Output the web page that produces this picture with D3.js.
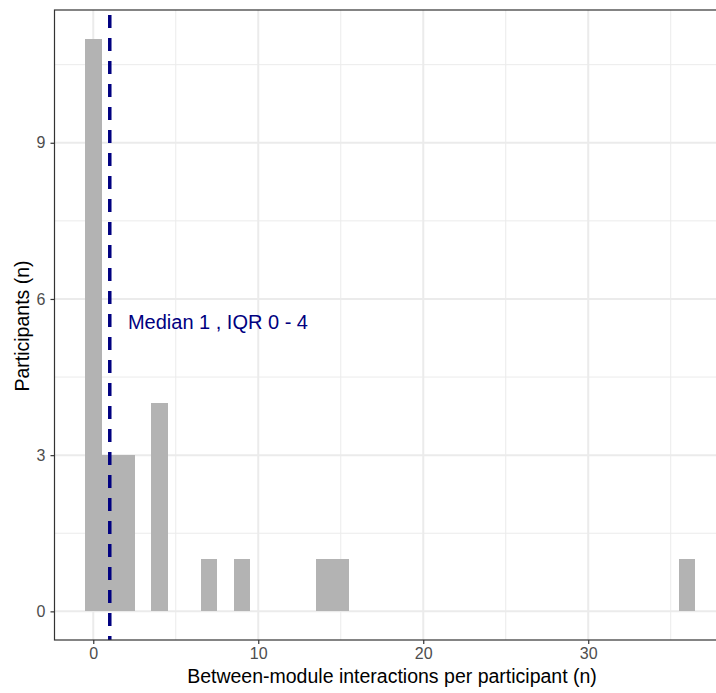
<!DOCTYPE html>
<html>
<head>
<meta charset="utf-8">
<script src="https://cdn.jsdelivr.net/npm/d3@7"></script>
<style>
  body { margin: 0; background: #fff; }
  svg { display: block; font-family: "Liberation Sans", Arial, sans-serif; }
</style>
</head>
<body>
<div id="chart"></div>
<script>
// histogram bins (binwidth 1, centred on integers)
const binCentres = [0, 1, 2, 4, 7, 9, 14, 15, 36]
const binCounts  = [11, 3, 3, 4, 1, 1, 1, 1, 1]
const xTicks = [0, 10, 20, 30]
const yTicks = [0, 3, 6, 9]
const medianValue = 1
const annotation = "Median 1 , IQR 0 - 4"

const W = 716, H = 693
const panel = {left: 54.5, top: 10, right: 726, bottom: 640}

const svg = d3.select("#chart").append("svg")
    .attr("width", W)
    .attr("height", H)

const x = d3.scaleLinear()
    .domain([-2.35, 38.35])
    .range([panel.left, panel.right])

const y = d3.scaleLinear()
    .domain([-0.55, 11.55])
    .range([panel.bottom, panel.top])

const grid = svg.append("g")

// minor grid
const xMinor = [5, 15, 25, 35]
const yMinor = [1.5, 4.5, 7.5, 10.5]
grid.selectAll(".xminor").data(xMinor).join("line")
    .attr("x1", d => x(d)).attr("x2", d => x(d))
    .attr("y1", panel.top).attr("y2", panel.bottom)
    .attr("stroke", "#EBEBEB").attr("stroke-width", 1)
grid.selectAll(".yminor").data(yMinor).join("line")
    .attr("y1", d => y(d)).attr("y2", d => y(d))
    .attr("x1", panel.left).attr("x2", panel.right)
    .attr("stroke", "#EBEBEB").attr("stroke-width", 1)

// major grid
grid.selectAll(".xmajor").data(xTicks).join("line")
    .attr("x1", d => x(d)).attr("x2", d => x(d))
    .attr("y1", panel.top).attr("y2", panel.bottom)
    .attr("stroke", "#EBEBEB").attr("stroke-width", 2)
grid.selectAll(".ymajor").data(yTicks).join("line")
    .attr("y1", d => y(d)).attr("y2", d => y(d))
    .attr("x1", panel.left).attr("x2", panel.right)
    .attr("stroke", "#EBEBEB").attr("stroke-width", 2)

// bars
svg.append("g")
    .attr("shape-rendering", "crispEdges")
    .selectAll("rect")
    .data(binCentres.map((c, i) => ({c, n: binCounts[i]})))
    .join("rect")
        .attr("x", d => x(d.c - 0.5))
        .attr("width", d => x(d.c + 0.5) - x(d.c - 0.5))
        .attr("y", d => y(d.n))
        .attr("height", d => y(0) - y(d.n))
        .attr("fill", "#B3B3B3")

// median line
svg.append("line")
    .attr("x1", x(medianValue)).attr("x2", x(medianValue))
    .attr("y1", panel.top).attr("y2", panel.bottom)
    .attr("stroke", "#000080")
    .attr("stroke-width", 3.5)
    .attr("stroke-dasharray", "13,10")
    .attr("stroke-dashoffset", -5)

svg.append("text")
    .attr("x", x(2.1))
    .attr("y", y(5.55))
    .attr("dy", "0.35em")
    .attr("fill", "#000080")
    .attr("font-size", 20)
    .text(annotation)

// panel border
svg.append("rect")
    .attr("x", panel.left).attr("y", panel.top)
    .attr("width", panel.right - panel.left)
    .attr("height", panel.bottom - panel.top)
    .attr("fill", "none")
    .attr("stroke", "#333333")
    .attr("stroke-width", 1.2)

// axes
const xAxis = svg.append("g")
    .attr("transform", `translate(0,${panel.bottom})`)
    .call(d3.axisBottom(x).tickValues(xTicks).tickSize(4).tickPadding(4))
const yAxis = svg.append("g")
    .attr("transform", `translate(${panel.left},0)`)
    .call(d3.axisLeft(y).tickValues(yTicks).tickSize(4).tickPadding(5))

for (const ax of [xAxis, yAxis]) {
    ax.select(".domain").remove()
    ax.selectAll(".tick line").attr("stroke", "#333333").attr("stroke-width", 1.2)
    ax.selectAll(".tick text").attr("fill", "#4D4D4D").attr("font-size", 16)
        .attr("font-family", "Liberation Sans, Arial, sans-serif")
}

svg.append("text")
    .attr("x", 392)
    .attr("y", 683)
    .attr("text-anchor", "middle")
    .attr("font-size", 19.5)
    .attr("fill", "#000")
    .text("Between-module interactions per participant (n)")

svg.append("text")
    .attr("transform", `translate(29,326) rotate(-90)`)
    .attr("text-anchor", "middle")
    .attr("font-size", 19.5)
    .attr("fill", "#000")
    .text("Participants (n)")
</script>
</body>
</html>
